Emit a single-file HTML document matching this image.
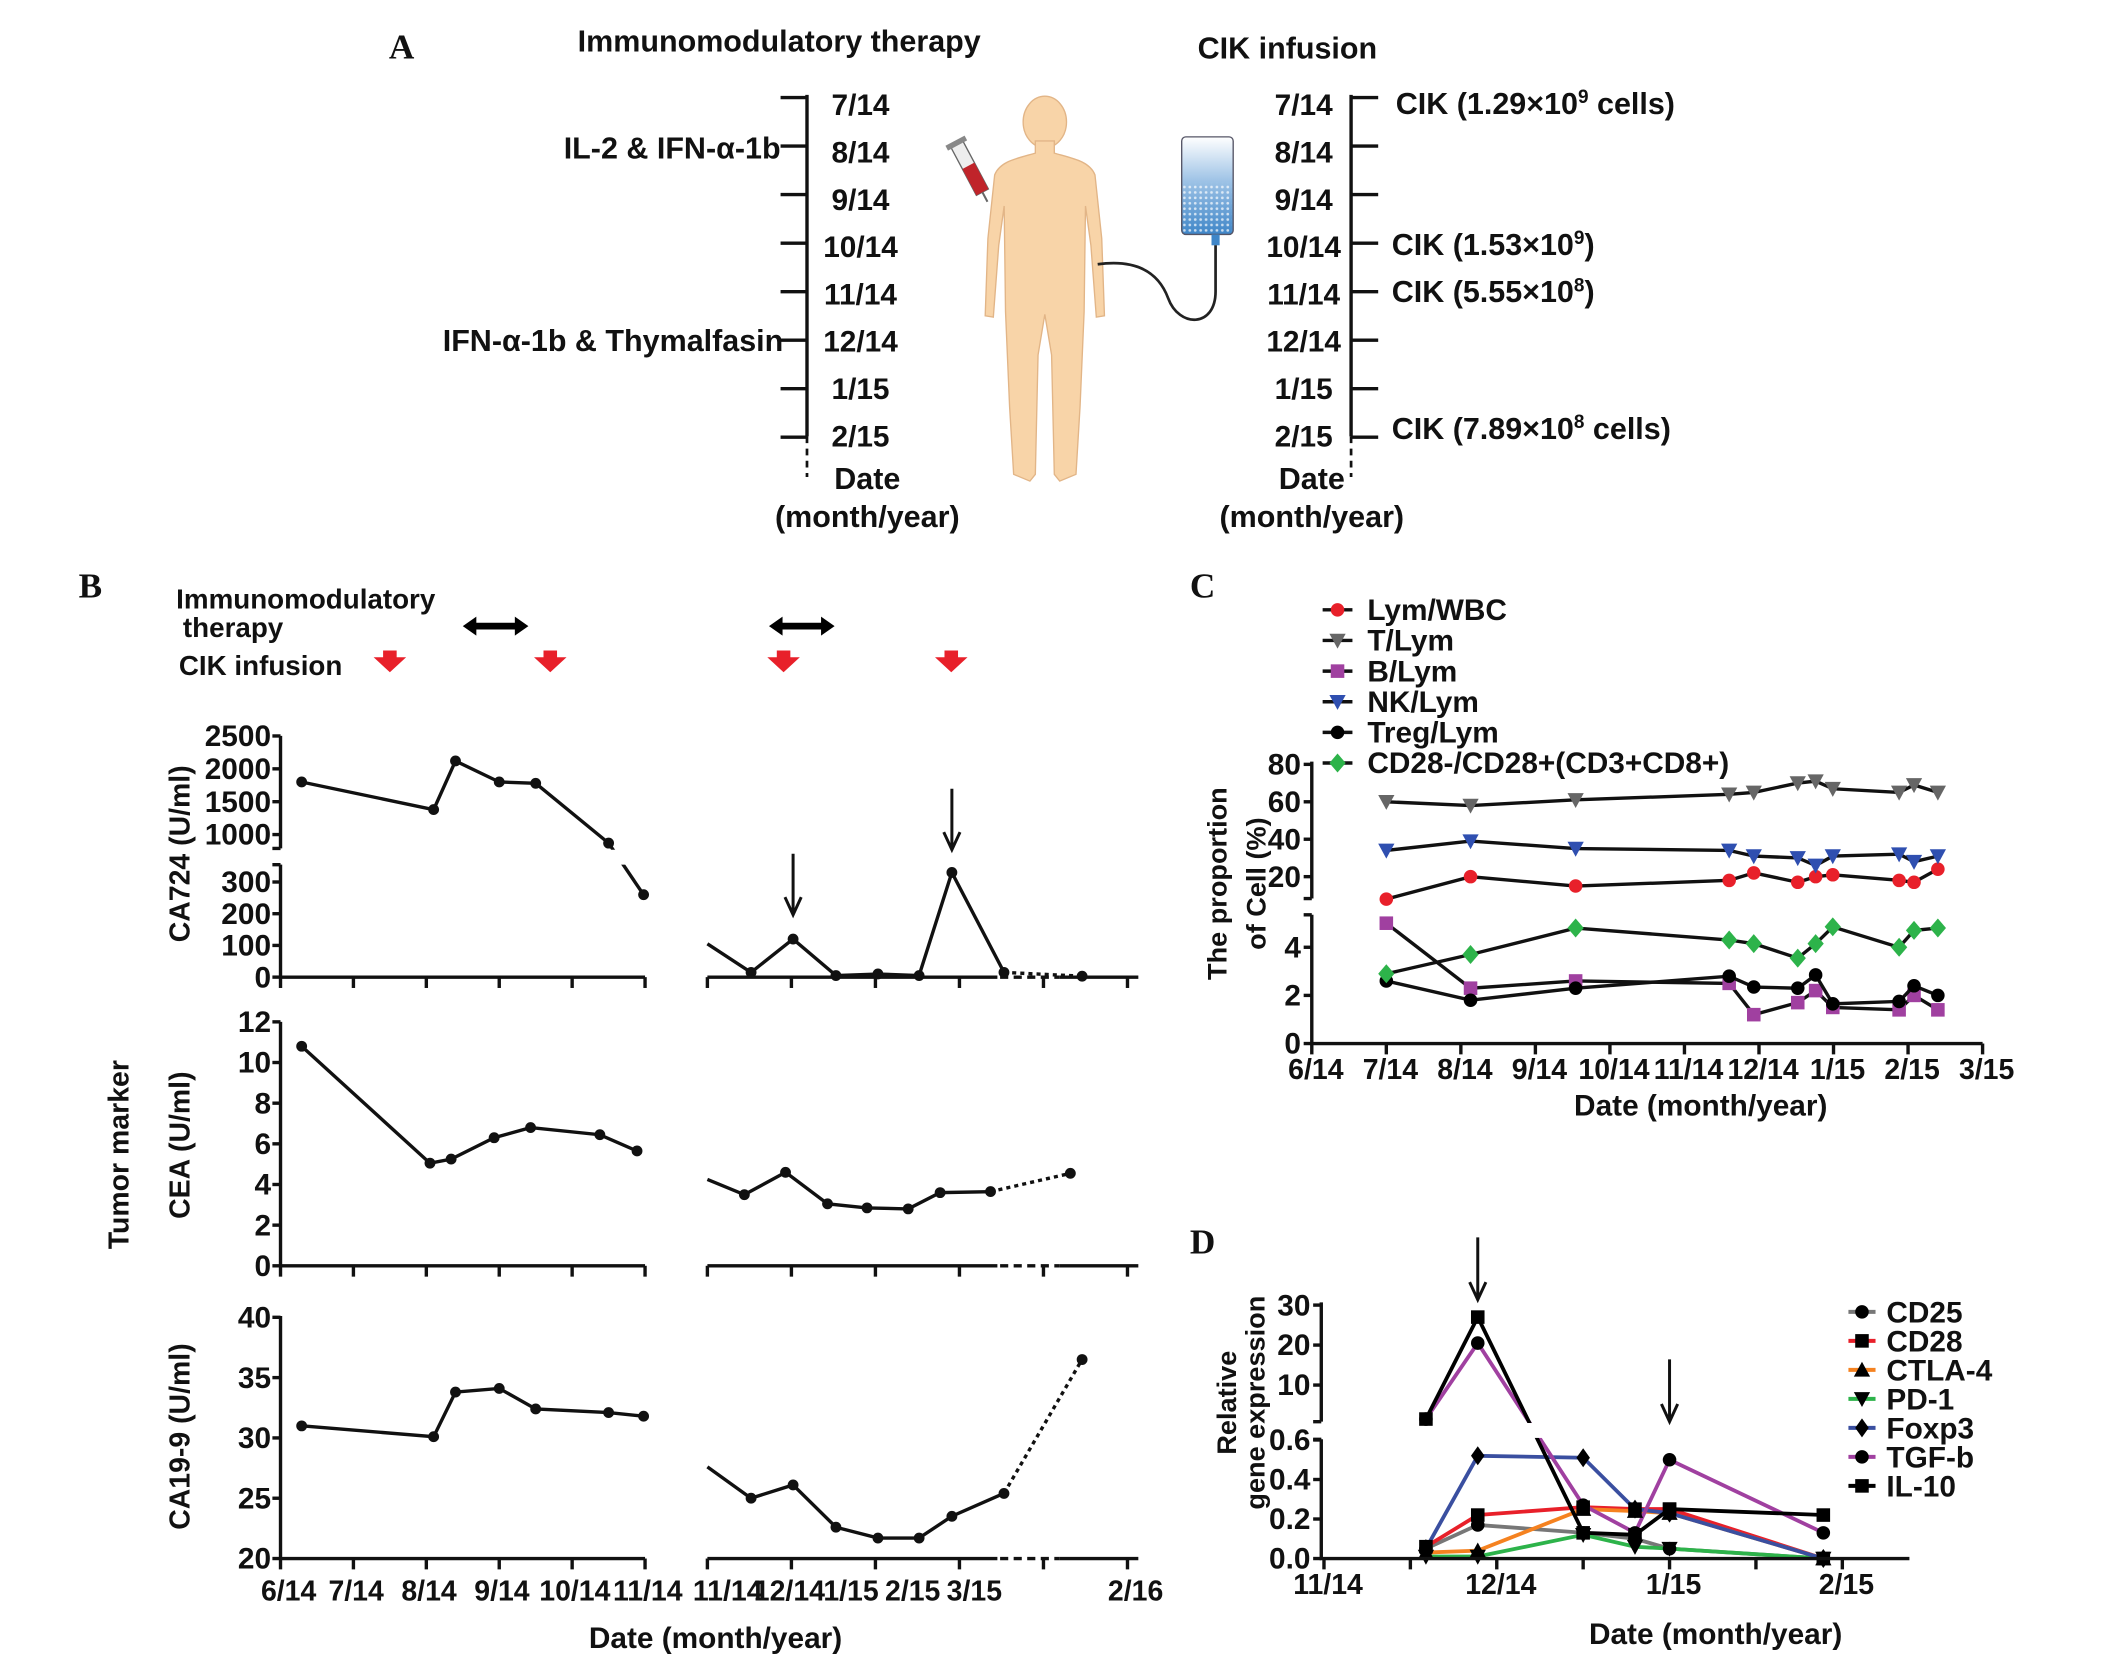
<!DOCTYPE html>
<html><head><meta charset="utf-8"><style>
html,body{margin:0;padding:0;background:#fff;}
svg{display:block;}
text{font-family:"Liberation Sans Narrow","Liberation Sans",sans-serif;font-weight:bold;fill:#111;}
.w{font-family:"Liberation Sans",sans-serif;}
.s{font-family:"Liberation Serif",serif;}
</style></head><body>
<svg id="fig" width="2126" height="1668" viewBox="0 0 1550 1216" preserveAspectRatio="none" xmlns="http://www.w3.org/2000/svg">
<defs>
<linearGradient id="bagg" x1="0" y1="0" x2="0" y2="1"><stop offset="0" stop-color="#ffffff"/><stop offset="0.45" stop-color="#9ec3e6"/><stop offset="1" stop-color="#3f86c8"/></linearGradient>
<pattern id="dots" width="4" height="4" patternUnits="userSpaceOnUse"><circle cx="2" cy="2" r="1" fill="#fff"/></pattern>
</defs>
<g transform="scale(0.988)">
<!-- Panel A -->
<g id="panelA">
<text class="s" x="287" y="43" font-size="26">A</text>
<text x="575" y="38" font-size="22.5" text-anchor="middle">Immunomodulatory therapy</text>
<text x="950" y="43" font-size="22.5" text-anchor="middle">CIK infusion</text>
<path d="M595.5,70 V322" stroke="#111" stroke-width="2.5" fill="none"/>
<path d="M595.5,322 V352" stroke="#111" stroke-width="2" stroke-dasharray="5,4" fill="none"/>
<path d="M997,70 V322" stroke="#111" stroke-width="2.5" fill="none"/>
<path d="M997,322 V352" stroke="#111" stroke-width="2" stroke-dasharray="5,4" fill="none"/>
<g id="timeline"></g>
<text x="576" y="117" font-size="22.5" text-anchor="end">IL-2 &amp; IFN-α-1b</text>
<text x="578" y="259" font-size="22.5" text-anchor="end">IFN-α-1b &amp; Thymalfasin</text>
<text x="1030" y="84" font-size="22.5">CIK (1.29×10<tspan dy="-8" font-size="14">9</tspan><tspan dy="8"> cells)</tspan></text>
<text x="1027" y="188" font-size="22.5">CIK (1.53×10<tspan dy="-8" font-size="14">9</tspan><tspan dy="8">)</tspan></text>
<text x="1027" y="223" font-size="22.5">CIK (5.55×10<tspan dy="-8" font-size="14">8</tspan><tspan dy="8">)</tspan></text>
<text x="1027" y="324" font-size="22.5">CIK (7.89×10<tspan dy="-8" font-size="14">8</tspan><tspan dy="8"> cells)</tspan></text>
<text x="640" y="361" font-size="22.5" text-anchor="middle">Date</text>
<text x="640" y="389" font-size="22.5" text-anchor="middle">(month/year)</text>
<text x="968" y="361" font-size="22.5" text-anchor="middle">Date</text>
<text x="968" y="389" font-size="22.5" text-anchor="middle">(month/year)</text>
<g>
<ellipse cx="771" cy="90" rx="16" ry="19" fill="#f8d4a8" stroke="#e2b587" stroke-width="1"/>
<path d="M764,104 L764,113 C750,117 738,119 734,129 L729,176 L727,233 L733,234 L737,181 L741,152 L742,230 L745,300 L748,350 L760,355 L764,350 L766,262 L771,232 L776,262 L778,350 L782,355 L794,350 L797,300 L800,230 L801,152 L805,181 L809,234 L815,233 L813,176 L808,129 C804,119 792,117 778,113 L778,104 Z" fill="#f8d4a8" stroke="#e2b587" stroke-width="1"/>
</g>
<g transform="rotate(-28 716 125)">
<rect x="711" y="104" width="10" height="40" fill="#eee" stroke="#666" stroke-width="1"/>
<rect x="711" y="122" width="10" height="22" fill="#c0242a"/>
<rect x="708" y="101" width="16" height="4" fill="#888"/>
<line x1="716" y1="144" x2="716" y2="152" stroke="#666" stroke-width="1.5"/>
</g>
<g>
<rect x="872" y="101" width="38" height="72" rx="3" fill="url(#bagg)" stroke="#556" stroke-width="1"/>
<rect x="873" y="135" width="36" height="37" fill="url(#dots)" opacity="0.7"/>
<rect x="894" y="173" width="6" height="8" fill="#3f86c8"/>
<path d="M897,181 L897,215 C897,242 870,242 862,220 C853,196 832,192 810,195" stroke="#222" stroke-width="2" fill="none"/>
</g>
</g>

<!-- Panel B -->
<g id="panelB">
<text class="s" x="58" y="441" font-size="26">B</text>
<text class="w" x="130" y="449" font-size="20.5">Immunomodulatory</text>
<text class="w" x="135" y="470" font-size="20.5">therapy</text>
<text class="w" x="132" y="498" font-size="20.5">CIK infusion</text>
<g id="bHeader"></g>
<text class="w" transform="translate(140,630) rotate(-90)" font-size="21" text-anchor="middle">CA724  (U/ml)</text>
<text class="w" transform="translate(140,845) rotate(-90)" font-size="21" text-anchor="middle">CEA  (U/ml)</text>
<text class="w" transform="translate(140,1060) rotate(-90)" font-size="21" text-anchor="middle">CA19-9  (U/ml)</text>
<text class="w" transform="translate(95,852) rotate(-90)" font-size="21" text-anchor="middle">Tumor marker</text>
<text x="528" y="1216" font-size="22" text-anchor="middle">Date  (month/year)</text>
<g id="bPlots"></g>
</g>

<!-- Panel C -->
<g id="panelC">
<text class="s" x="878" y="441" font-size="26">C</text>
<text class="w" transform="translate(905,652) rotate(-90)" font-size="20" text-anchor="middle">The proportion</text>
<text class="w" transform="translate(934,652) rotate(-90)" font-size="20" text-anchor="middle">of Cell (%)</text>
<text x="1255" y="823" font-size="22" text-anchor="middle">Date  (month/year)</text>
<g id="cPlot"></g>
</g>

<!-- Panel D -->
<g id="panelD">
<text class="s" x="878" y="925" font-size="26">D</text>
<text class="w" transform="translate(912,1035) rotate(-90)" font-size="20" text-anchor="middle">Relative</text>
<text class="w" transform="translate(933,1035) rotate(-90)" font-size="20" text-anchor="middle">gene expression</text>
<text x="1266" y="1213" font-size="22" text-anchor="middle">Date  (month/year)</text>
<g id="dPlot"></g>
</g>
</g>
</svg>
<script>
// ---------- Panel A data ----------
const timelineLabels = ["7/14","8/14","9/14","10/14","11/14","12/14","1/15","2/15"];
// ---------- Panel B data ----------
const bLeftTicks = ["6/14","7/14","8/14","9/14","10/14","11/14"];
const bRightTicks = ["11/14","12/14","1/15","2/15","3/15","2/16"];
const bLeftMonths = [0.29, 2.1, 2.4, 3.0, 3.5, 4.5, 4.98];
const bRightMonths = [0.0, 0.52, 1.02, 1.53, 2.03, 2.52, 2.91, 3.53, 4.46];
const ca724Left = [1800, 1380, 2120, 1800, 1780, 870, 260];
const ca724Right = [105, 15, 120, 5, 10, 5, 330, 15, 3];
const ceaLeftMonths = [0.29, 2.05, 2.34, 2.93, 3.43, 4.38, 4.89];
const ceaRightMonths = [0.0, 0.44, 0.93, 1.43, 1.9, 2.39, 2.77, 3.37, 4.32];
const ceaLeft = [10.8, 5.05, 5.25, 6.3, 6.8, 6.45, 5.65];
const ceaRight = [4.25, 3.5, 4.6, 3.05, 2.85, 2.8, 3.6, 3.65, 4.55];
const ca199Left = [31, 30.1, 33.8, 34.1, 32.4, 32.1, 31.8];
const ca199Right = [27.6, 25, 26.1, 22.6, 21.7, 21.7, 23.5, 25.4, 36.5];
const ca724UpperTicks = [2500, 2000, 1500, 1000];
const ca724LowerTicks = [300, 200, 100, 0];
const ceaTicks = [12, 10, 8, 6, 4, 2, 0];
const ca199Ticks = [40, 35, 30, 25, 20];
const immunoTherapyMonths = [[2.5, 3.4], [6.7, 7.6]];
const cikMonths = [1.5, 3.7, 6.9, 9.2];
const arrowMonthsB = [1.02, 2.91];
// ---------- Panel C data ----------
const cTicks = ["6/14","7/14","8/14","9/14","10/14","11/14","12/14","1/15","2/15","3/15"];
const cUpperTicks = [80, 60, 40, 20];
const cLowerTicks = [4, 2, 0];
const cMonths = [1.0, 2.13, 3.54, 5.6, 5.93, 6.52, 6.76, 6.99, 7.88, 8.08, 8.4];
const lymWbc = [8, 20, 15, 18, 22, 17, 20, 21, 18, 17, 24];
const tLym = [60, 58, 61, 64, 65, 70, 71, 67, 65, 69, 65];
const bLym = [5.0, 2.3, 2.6, 2.5, 1.2, 1.7, 2.2, 1.5, 1.4, 2.0, 1.4];
const nkLym = [34, 39, 35, 34, 31, 30, 26, 31, 32, 28, 31];
const tregLym = [2.6, 1.8, 2.3, 2.8, 2.35, 2.3, 2.85, 1.65, 1.75, 2.4, 2.0];
const cd28Ratio = [2.9, 3.7, 4.8, 4.3, 4.15, 3.55, 4.15, 4.85, 4.0, 4.7, 4.8];
const cSeriesNames = ["Lym/WBC","T/Lym","B/Lym","NK/Lym","Treg/Lym","CD28-/CD28+(CD3+CD8+)"];
// ---------- Panel D data ----------
const dTickLabels = ["11/14","","12/14","","1/15","","2/15"];
const dUpperTicks = [30, 20, 10];
const dLowerTicks = [0.6, 0.4, 0.2, 0.0];
const dMonths = [0.59, 0.89, 1.5, 1.8, 2.0, 2.89];
const cd25 = [0.05, 0.17, 0.13, 0.10, 0.05, 0.0];
const cd28 = [0.06, 0.22, 0.26, 0.25, 0.25, 0.0];
const ctla4 = [0.03, 0.04, 0.25, 0.24, 0.23, 0.0];
const pd1 = [0.01, 0.01, 0.12, 0.06, 0.05, 0.0];
const foxp3 = [0.05, 0.52, 0.51, 0.25, 0.23, 0.0];
const tgfb = [1.5, 20.5, 0.27, 0.13, 0.5, 0.13];
const il10 = [1.5, 27, 0.13, 0.12, 0.25, 0.22];
const dSeriesNames = ["CD25","CD28","CTLA-4","PD-1","Foxp3","TGF-b","IL-10"];
const arrowMonthsD = [0.89, 2.0];

const NS = "http://www.w3.org/2000/svg";
function mk(tag, attrs, parent){const e=document.createElementNS(NS,tag);for(const k in attrs)e.setAttribute(k,attrs[k]);parent.appendChild(e);return e;}
function txt(s, attrs, parent){const e=mk("text",attrs,parent);e.textContent=s;return e;}
function pathOf(pts){return pts.map((p,i)=>(i?"L":"M")+p[0].toFixed(1)+","+p[1].toFixed(1)).join(" ");}

// ---------- Panel A ----------
(function(){
  const g=document.getElementById("timeline");
  const ty=i=>72+i*35.8;
  timelineLabels.forEach((lab,i)=>{
    const y=ty(i);
    const t1=mk("line",{x1:576,y1:y,x2:596,y2:y,stroke:"#111","stroke-width":2.5},g);
    
    
    const t2=mk("line",{x1:997,y1:y,x2:1017,y2:y,stroke:"#111","stroke-width":2.5},g);
    
    
    const ly=y+13-i*0.9;
    const l1=txt(lab,{x:635,y:ly,"font-size":22,"text-anchor":"middle"},g);
    
    
    const l2=txt(lab,{x:962,y:ly,"font-size":22,"text-anchor":"middle"},g);
    
    
  });
})();

// ---------- Panel B ----------
(function(){
  const g=document.getElementById("bPlots");
  const xL=m=>207+m*53.8, xR=i=>522+i*62;
  const yCA724=v=>v>=800?615.8-(v-1000)*0.0485:721-v*0.234;
  const yCEA=v=>934-v*15;
  const y199=v=>1150-(v-20)*8.9;
  const h=document.getElementById("bHeader");
  const hx=m=>207+m*53.8;
  immunoTherapyMonths.forEach(r=>{
    const x1=hx(r[0]), x2=hx(r[1]), y=462;
    const a=mk("path",{d:`M${x1+8},${y} H${x2-8}`,stroke:"#000","stroke-width":5},h);
    
    
    const hd=mk("path",{d:`M${x1},${y} l10,-7 v14 z M${x2},${y} l-10,-7 v14 z`,fill:"#000"},h);
    
    
  });
  cikMonths.forEach(m=>{
    const x=hx(m), y=480;
    const a=mk("path",{d:`M${x-5},${y} h10 v5 h7 l-12,11 l-12,-11 h7 z`,fill:"#e8202a"},h);
    
    
  });
  function yAxis(x,y1,y2,ticks,fy,name){
    const a=mk("line",{x1:x,y1:y1,x2:x,y2:y2,stroke:"#111","stroke-width":2.5},g);
    
    
    ticks.forEach(v=>{
      const y=fy(v);
      const t=mk("line",{x1:x-6,y1:y,x2:x,y2:y,stroke:"#111","stroke-width":2.5},g);
      
      
      const l=txt(String(v),{x:x-7,y:y+7.5,"font-size":22,"text-anchor":"end"},g);
      
      
    });
  }
  function xAxis(y,name,labels){
    const a=mk("path",{d:`M207,${y} H476 M522,${y} H736 M782,${y} H840`,stroke:"#111","stroke-width":2.5,fill:"none"},g);
    
    
    const d=mk("path",{d:`M738,${y} H782`,stroke:"#111","stroke-width":2.5,"stroke-dasharray":"6,4",fill:"none"},g);
    
    
    bLeftTicks.forEach((lab,i)=>{
      const t=mk("line",{x1:xL(i),y1:y,x2:xL(i),y2:y+8,stroke:"#111","stroke-width":2.5},g);
      
      
      if(labels){const l=txt(lab,{x:xL(i)+(i===0?6:2),y:y+31,"font-size":21,"text-anchor":"middle"},g);
      
      }
    });
    bRightTicks.forEach((lab,i)=>{
      const t=mk("line",{x1:xR(i),y1:y,x2:xR(i),y2:y+8,stroke:"#111","stroke-width":2.5},g);
      
      
      if(labels){const lx=i<5?537+i*45.5:838;
      const l=txt(lab,{x:lx,y:y+31,"font-size":21,"text-anchor":"middle"},g);
      
      }
    });
  }
  function series(lm,lv,rm,rv,fy,name){
    const lp=lm.map((m,i)=>[xL(m),fy(lv[i])]);
    const rp=rm.map((m,i)=>[xR(m),fy(rv[i])]);
    const n=rp.length;
    const a=mk("path",{d:pathOf(lp),stroke:"#111","stroke-width":2.5,fill:"none"},g);
    
    
    const b=mk("path",{d:pathOf(rp.slice(0,n-1)),stroke:"#111","stroke-width":2.5,fill:"none"},g);
    
    
    const c=mk("path",{d:pathOf(rp.slice(n-2)),stroke:"#111","stroke-width":2.5,fill:"none","stroke-dasharray":"3,3"},g);
    
    
    lp.concat(rp.slice(1)).forEach(p=>{
      const m=mk("circle",{cx:p[0],cy:p[1],r:4,fill:"#111"},g);
      
      
    });
  }
  series(bLeftMonths,ca724Left,bRightMonths,ca724Right,yCA724,"ca724");
  const gap=mk("rect",{x:209,y:627,width:290,height:11,fill:"#fff"},g);
  
  
  yAxis(207,543,626,ca724UpperTicks,yCA724,"ca724-y-axis-upper");
  yAxis(207,638,721,ca724LowerTicks,yCA724,"ca724-y-axis-lower");
  const cap=mk("path",{d:"M201,626 H207 M201,638 H207",stroke:"#111","stroke-width":2.5},g);
  
  
  xAxis(721,"ca724-x-axis",false);
  arrowMonthsB.forEach((m,i)=>{
    const x=xR(m), top=i?582:630;
    const a=mk("path",{d:`M${x},${top} V${top+44} M${x-6},${top+32} L${x},${top+45} L${x+6},${top+32}`,stroke:"#111","stroke-width":2.2,fill:"none"},g);
    
    
  });
  series(ceaLeftMonths,ceaLeft,ceaRightMonths,ceaRight,yCEA,"cea");
  yAxis(207,754,934,ceaTicks,yCEA,"cea-y-axis");
  xAxis(934,"cea-x-axis",false);
  series(bLeftMonths,ca199Left,bRightMonths,ca199Right,y199,"ca199");
  yAxis(207,971,1150,ca199Ticks,y199,"ca199-y-axis");
  xAxis(1150,"ca199-x-axis",true);
})();

// ---------- Panel C ----------
(function(){
  const g=document.getElementById("cPlot");
  const x=m=>968+m*55;
  const y=v=>v>=7.5?564+(80-v)*1.381:770-v*17.76;
  function marker(kind,cx,cy,color,parent){
    let e;
    if(kind==="circle") e=mk("circle",{cx:cx,cy:cy,r:5,fill:color},parent);
    else if(kind==="tri") e=mk("path",{d:`M${cx-6},${cy-5} h12 l-6,11 z`,fill:color},parent);
    else if(kind==="sq") e=mk("rect",{x:cx-5,y:cy-5,width:10,height:10,fill:color},parent);
    else e=mk("path",{d:`M${cx},${cy-7} l6,7 l-6,7 l-6,-7 z`,fill:color},parent);
    return e;
  }
  const ax=mk("path",{d:"M968,562 V663 M968,675 V770 H1463 M962,663 H968 M962,675 H968",stroke:"#111","stroke-width":2.5,fill:"none"},g);
  
  
  cUpperTicks.concat(cLowerTicks).forEach(v=>{
    const t=mk("line",{x1:962,y1:y(v),x2:968,y2:y(v),stroke:"#111","stroke-width":2.5},g);
    
    
    const l=txt(String(v),{x:960,y:y(v)+7.5,"font-size":22,"text-anchor":"end"},g);
    
    
  });
  cTicks.forEach((lab,i)=>{
    const t=mk("line",{x1:x(i),y1:770,x2:x(i),y2:778,stroke:"#111","stroke-width":2.5},g);
    
    
    const l=txt(lab,{x:x(i)+3,y:796,"font-size":21,"text-anchor":"middle"},g);
    
    
  });
  const series=[[lymWbc,"#e8202a","circle"],[tLym,"#666","tri"],[bLym,"#a040a0","sq"],[nkLym,"#2f4fb0","tri"],[tregLym,"#000","circle"],[cd28Ratio,"#2db34a","dia"]];
  series.forEach((s,k)=>{
    const pts=cMonths.map((m,i)=>[x(m),y(s[0][i])]);
    const ln=mk("path",{d:pathOf(pts),stroke:"#111","stroke-width":2.5,fill:"none"},g);
    
    
    pts.forEach(p=>{
      const m=marker(s[2],p[0],p[1],s[1],g);
      
      
    });
    const ly=450+k*22.6;
    const ll=mk("line",{x1:976,y1:ly,x2:998,y2:ly,stroke:"#111","stroke-width":2.5},g);
    
    
    const lm=marker(s[2],987,ly,s[1],g);
    
    
    const lt=txt(cSeriesNames[k],{x:1009,y:ly+7.5,"font-size":22},g);
    
    
  });
})();

// ---------- Panel D ----------
(function(){
  const g=document.getElementById("dPlot");
  const x=m=>977+m*127.5;
  const y=v=>v>1?1022-(v-10)*2.95:1150-v*145.8;
  const series=[[cd25,"#777","circle"],[cd28,"#e8202a","sq"],[ctla4,"#f58220","tri"],[pd1,"#2db34a","dtri"],[foxp3,"#3a4fa0","dia"],[tgfb,"#a040a0","circle"],[il10,"#000","sq"]];
  function marker(kind,cx,cy,parent){
    let e;
    if(kind==="circle") e=mk("circle",{cx:cx,cy:cy,r:5,fill:"#000"},parent);
    else if(kind==="sq") e=mk("rect",{x:cx-5,y:cy-5,width:10,height:10,fill:"#000"},parent);
    else if(kind==="tri") e=mk("path",{d:`M${cx-6},${cy+5} h12 l-6,-11 z`,fill:"#000"},parent);
    else if(kind==="dtri") e=mk("path",{d:`M${cx-6},${cy-5} h12 l-6,11 z`,fill:"#000"},parent);
    else e=mk("path",{d:`M${cx},${cy-7} l5,7 l-5,7 l-5,-7 z`,fill:"#000"},parent);
    return e;
  }
  series.forEach((s,k)=>{
    const pts=dMonths.map((m,i)=>[x(m),y(s[0][i])]);
    const ln=mk("path",{d:pathOf(pts),stroke:s[1],"stroke-width":2.8,fill:"none"},g);
    
    
  });
  const gap=mk("rect",{x:980,y:1050,width:420,height:11,fill:"#fff"},g);
  
  
  series.forEach((s,k)=>{
    dMonths.forEach((m,i)=>{
      const mm=marker(s[2],x(m),y(s[0][i]),g);
      
      
    });
    const ly=968+k*21.4;
    const ll=mk("line",{x1:1364,y1:ly,x2:1384,y2:ly,stroke:s[1],"stroke-width":3},g);
    
    
    const lm=marker(s[2],1374,ly,g);
    
    
    const lt=txt(dSeriesNames[k],{x:1392,y:ly+8,"font-size":22},g);
    
    
  });
  const ax=mk("path",{d:"M975,961 V1049 M975,1062 V1150 H1409 M969,1049 H975 M969,1062 H975",stroke:"#111","stroke-width":2.5,fill:"none"},g);
  
  
  dUpperTicks.concat(dLowerTicks).forEach(v=>{
    const t=mk("line",{x1:969,y1:y(v),x2:975,y2:y(v),stroke:"#111","stroke-width":2.5},g);
    
    
    const l=txt(v<1?v.toFixed(1):String(v),{x:967,y:y(v)+7.5,"font-size":22,"text-anchor":"end"},g);
    
    
  });
  dTickLabels.forEach((lab,i)=>{
    const xx=x(i*0.5);
    const t=mk("line",{x1:xx,y1:1150,x2:xx,y2:1158,stroke:"#111","stroke-width":2.5},g);
    
    
    if(lab){const l=txt(lab,{x:xx+3,y:1176,"font-size":21,"text-anchor":"middle"},g);
    
    }
  });
  arrowMonthsD.forEach((m,i)=>{
    const xx=x(m), top=i?1003:913;
    const a=mk("path",{d:`M${xx},${top} V${top+45} M${xx-6},${top+33} L${xx},${top+46} L${xx+6},${top+33}`,stroke:"#111","stroke-width":2.2,fill:"none"},g);
    
    
  });
})();
</script>
</body></html>
